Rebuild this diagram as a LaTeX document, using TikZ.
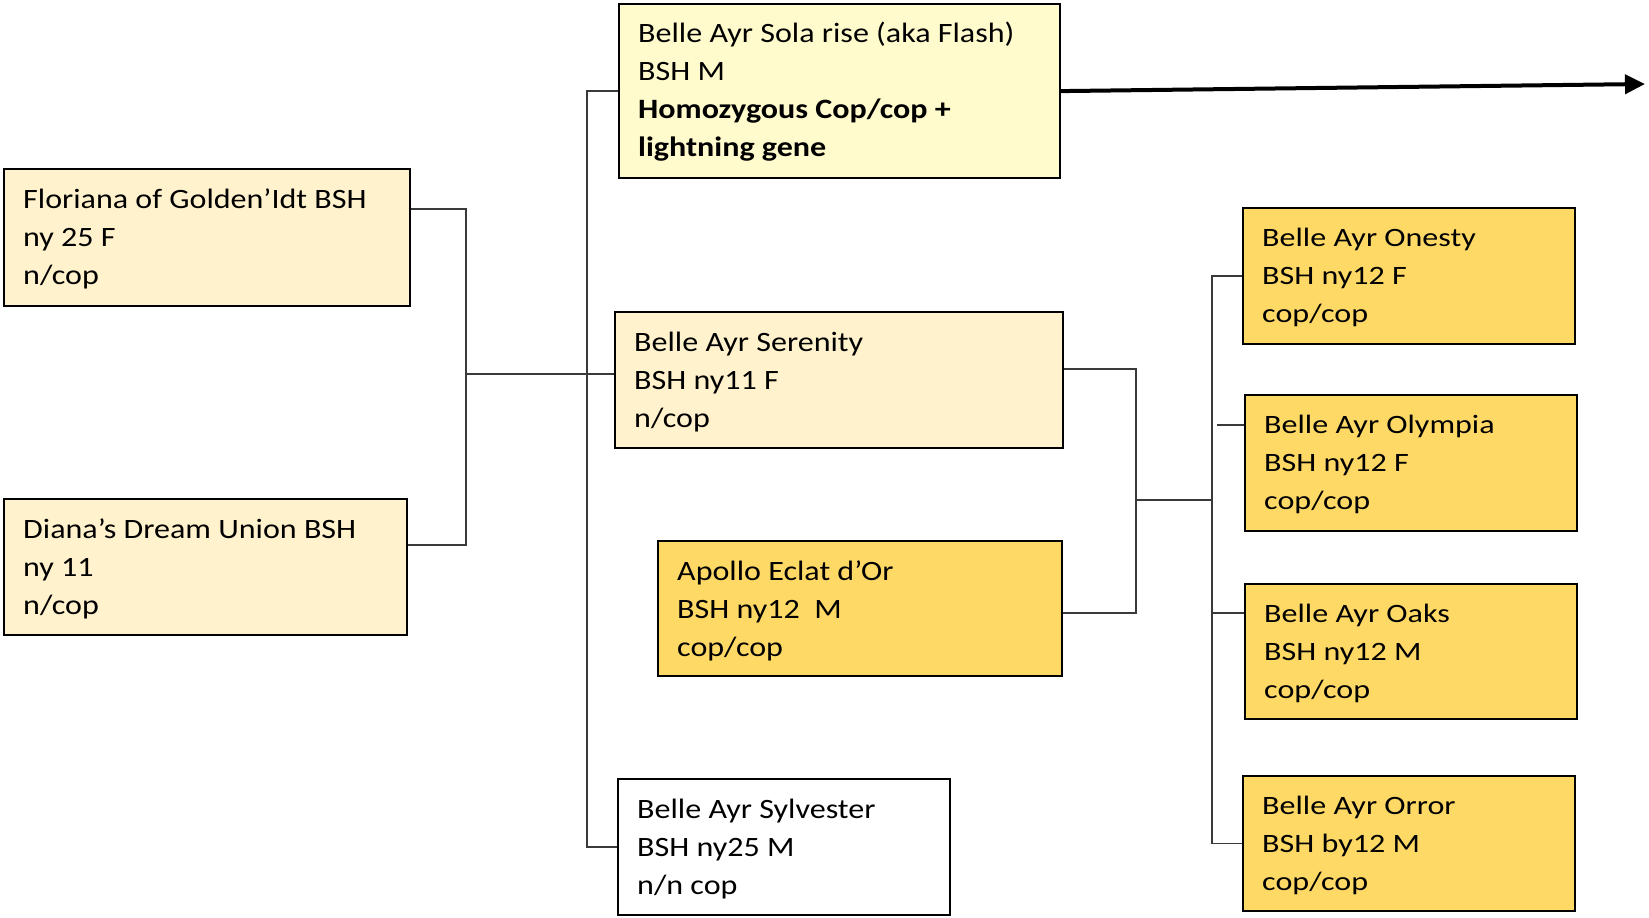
\documentclass[tikz,border=0pt]{standalone}
\usepackage{fontspec}
\setmainfont{Carlito}
\newfontfamily\midfont[FakeStretch=1.145]{Carlito}
\newfontfamily\widefont[FakeStretch=1.21]{Carlito}
\usetikzlibrary{arrows.meta,calc}
\definecolor{cream}{HTML}{FFF2CC}
\definecolor{lemon}{HTML}{FFFBCC}
\definecolor{gold}{HTML}{FFD966}
\definecolor{conn}{HTML}{3A3A3A}
\begin{document}
\begin{tikzpicture}[x=1pt,y=-1pt,
  box/.style={draw=black, line width=2.2pt, rectangle, inner sep=0pt, anchor=north west},
  txt/.style={anchor=north west, inner sep=0pt, align=left, font=\midfont\fontsize{28}{38}\selectfont},
  wtxt/.style={anchor=north west, inner sep=0pt, align=left, font=\widefont\fontsize{26.5}{38}\selectfont},
  link/.style={draw=conn, line width=1.3pt},
]
\useasboundingbox (0,0) rectangle (1649,918);

% boxes
\node[box, fill=lemon, minimum width=441pt, minimum height=174pt] (flash) at (618,3) {};
\node[box, fill=cream, minimum width=406pt, minimum height=137pt] (flor) at (3,168) {};
\node[box, fill=cream, minimum width=403pt, minimum height=136pt] (diana) at (3,498) {};
\node[box, fill=cream, minimum width=448pt, minimum height=136pt] (seren) at (614,311) {};
\node[box, fill=gold, minimum width=404pt, minimum height=135pt] (apollo) at (657,540) {};
\node[box, fill=white, minimum width=332pt, minimum height=136pt] (sylv) at (617,778) {};
\node[box, fill=gold, minimum width=332pt, minimum height=136pt] (onesty) at (1242,207) {};
\node[box, fill=gold, minimum width=332pt, minimum height=136pt] (olympia) at (1244,394) {};
\node[box, fill=gold, minimum width=332pt, minimum height=135pt] (oaks) at (1244,583) {};
\node[box, fill=gold, minimum width=332pt, minimum height=135pt] (orror) at (1242,775) {};

% texts
\node[txt] (flashT) at ($(flash.north west)+(20,0)$) {\rule{0pt}{39pt}Belle Ayr Sola rise (aka Flash)\\BSH M\\\bfseries Homozygous Cop/cop +\\\bfseries lightning gene};
\node[txt] (florT) at ($(flor.north west)+(20,10)$) {\rule{0pt}{30pt}Floriana of Golden’Idt BSH\\ny 25 F\\n/cop};
\node[txt] (dianaT) at ($(diana.north west)+(20,10)$) {\rule{0pt}{30pt}Diana’s Dream Union BSH\\ny 11\\n/cop};
\node[txt] (serenT) at ($(seren.north west)+(20,10)$) {\rule{0pt}{30pt}Belle Ayr Serenity\\BSH ny11 F\\n/cop};
\node[txt] (apolloT) at ($(apollo.north west)+(20,10)$) {\rule{0pt}{30pt}Apollo Eclat d’Or\\BSH ny12\ \ M\\cop/cop};
\node[txt] (sylvT) at ($(sylv.north west)+(20,10)$) {\rule{0pt}{30pt}Belle Ayr Sylvester\\BSH ny25 M\\n/n cop};
\node[wtxt] (onestyT) at ($(onesty.north west)+(20,10)$) {\rule{0pt}{29pt}Belle Ayr Onesty\\BSH ny12 F\\cop/cop};
\node[wtxt] (olympiaT) at ($(olympia.north west)+(20,10)$) {\rule{0pt}{29pt}Belle Ayr Olympia\\BSH ny12 F\\cop/cop};
\node[wtxt] (oaksT) at ($(oaks.north west)+(20,10)$) {\rule{0pt}{29pt}Belle Ayr Oaks\\BSH ny12 M\\cop/cop};
\node[wtxt] (orrorT) at ($(orror.north west)+(20,10)$) {\rule{0pt}{29pt}Belle Ayr Orror\\BSH by12 M\\cop/cop};

% connectors
\coordinate (lj) at (466,374);
\coordinate (rj) at (1136,500);
\coordinate (cj) at (1212,500);
\draw[link] ($(flor.north east)+(0,41)$) -| (lj) |- ($(diana.north east)+(0,47)$);
\draw[link] (lj) -- (lj -| seren.west);
\draw[link] (flash.west) -- ++(-31,0) |- (sylv.west);
\draw[link] ($(seren.north east)+(0,58)$) -| (rj) |- ($(apollo.north east)+(0,73)$);
\draw[link] (rj) -- (cj);
\draw[link] (onesty.west) -- ++(-30,0) |- (orror.west);
\draw[link] ($(olympia.north west)+(0,31)$) -- ++(-27,0);
\draw[link] ($(oaks.north west)+(0,30)$) -- ++(-32,0);

% arrow
\draw[line width=4pt, -{Triangle[length=20pt,width=19pt]}] (flash.east) -- (1645,84);
\end{tikzpicture}
\end{document}
